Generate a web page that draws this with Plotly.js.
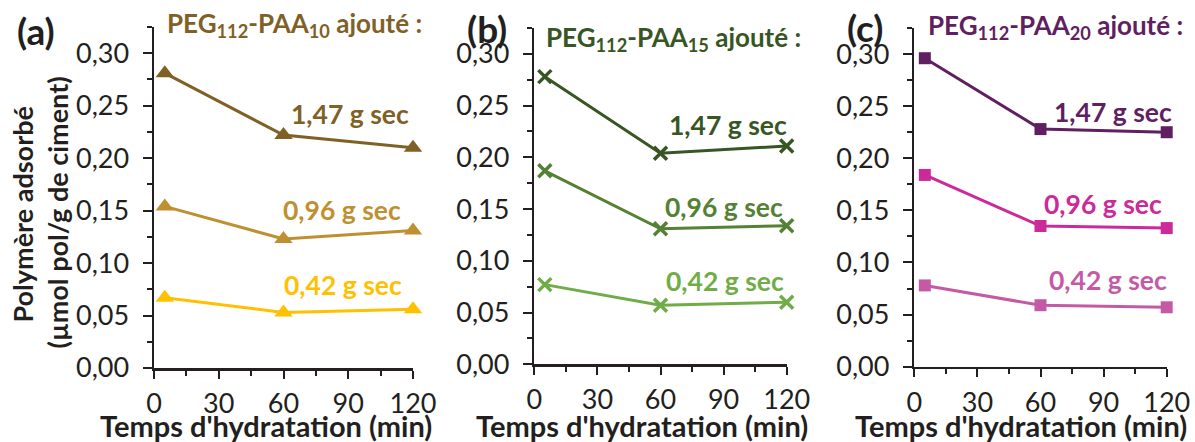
<!DOCTYPE html>
<html><head><meta charset="utf-8">
<script src="https://cdn.plot.ly/plotly-3.0.1.min.js"></script>
<style>html,body{margin:0;padding:0;background:#fff}#chart{width:1195px;height:442px}</style>
</head><body><div id="chart"></div>
<script>
// ---- data ----
const times = [5, 60, 120];
const doseLabels = ['1,47 g sec', '0,96 g sec', '0,42 g sec'];
const paa10_147 = [0.281, 0.222, 0.210];
const paa10_096 = [0.154, 0.123, 0.131];
const paa10_042 = [0.067, 0.053, 0.056];
const paa15_147 = [0.278, 0.204, 0.211];
const paa15_096 = [0.187, 0.131, 0.134];
const paa15_042 = [0.077, 0.057, 0.060];
const paa20_147 = [0.296, 0.228, 0.225];
const paa20_096 = [0.184, 0.135, 0.133];
const paa20_042 = [0.078, 0.059, 0.057];
const panelLetters = ['(a)', '(b)', '(c)'];
const panelTitles = ['PEG<sub>112</sub>-PAA<sub>10</sub> ajouté :',
                     'PEG<sub>112</sub>-PAA<sub>15</sub> ajouté :',
                     'PEG<sub>112</sub>-PAA<sub>20</sub> ajouté :'];
const xTitle = "Temps d'hydratation (min)";
const yTitle1 = 'Polymère adsorbé';
const yTitle2 = '(µmol pol/g de ciment)';

// ---- styles ----
const W = 1195, H = 442;
const FONT = 'Lato, "Open Sans", sans-serif';
const AX = '#231f20';
const panels = [
  {series: [paa10_147, paa10_096, paa10_042], colors: ['#7f6126', '#bf9030', '#ffc000'],
   symbol: 'triangle-up', msize: 16, mline: 0,
   xpx: [154, 413], ypx: [368, 27]},
  {series: [paa15_147, paa15_096, paa15_042], colors: ['#375623', '#548235', '#70ad47'],
   symbol: 'x-thin', msize: 13, mline: 3.5,
   xpx: [534.3, 786.7], ypx: [364.3, 28]},
  {series: [paa20_147, paa20_096, paa20_042], colors: ['#5f1f61', '#cc2a98', '#c45aa6'],
   symbol: 'square', msize: 12, mline: 0,
   xpx: [914.3, 1166.7], ypx: [366.7, 28]}
];
// label positions (px) : [panel][series] centre
const labelPx = [
  [[350, 114], [341.5, 209.5], [343, 285]],
  [[727.7, 125], [723.8, 207], [724.7, 281.3]],
  [[1112.5, 112.3], [1102.8, 204.3], [1108, 280]]
];
const titlePx = [[165, 24.2], [544, 38.7], [926, 26.3]];
const letterPx = [[35.5, 31], [487, 28.5], [865, 27.5]];
const xTitlePx = [[266, 425.5], [641.5, 425.5], [1021, 425.5]];

const px2x = p => p / W;
const py2y = p => 1 - p / H;

const traces = [];
const layout = {
  width: W, height: H,
  margin: {l: 0, r: 0, t: 0, b: 0, autoexpand: false},
  paper_bgcolor: '#fff', plot_bgcolor: 'rgba(0,0,0,0)',
  separators: ', ',
  showlegend: false,
  font: {family: FONT, color: AX, size: 24},
  annotations: []
};

panels.forEach((p, i) => {
  const sfx = i === 0 ? '' : String(i + 1);
  p.series.forEach((vals, j) => {
    traces.push({
      x: times, y: vals, xaxis: 'x' + sfx, yaxis: 'y' + sfx,
      type: 'scatter', mode: 'lines+markers', cliponaxis: false,
      line: {color: p.colors[j], width: 3},
      marker: {symbol: p.symbol, size: p.msize, color: p.colors[j],
               line: {color: p.colors[j], width: p.mline}},
      hoverinfo: 'skip'
    });
    layout.annotations.push({
      xref: 'paper', yref: 'paper', x: px2x(labelPx[i][j][0]), y: py2y(labelPx[i][j][1]),
      xanchor: 'center', yanchor: 'middle', showarrow: false,
      text: '<b>' + doseLabels[j] + '</b>',
      font: {family: FONT, size: 26.5, color: p.colors[j]}
    });
  });
  layout['xaxis' + sfx] = {
    domain: [px2x(p.xpx[0]), px2x(p.xpx[1])], anchor: 'y' + sfx,
    range: [0, 120], tickvals: [0, 30, 60, 90, 120], ticktext: ['0', '30', '60', '90', '120'],
    ticks: 'outside', ticklen: 8, tickwidth: 2, tickcolor: AX,
    minor: {tickvals: [15, 45, 75, 105], ticks: 'outside', ticklen: 5, tickwidth: 2, tickcolor: AX},
    showline: true, linewidth: 2.5, linecolor: AX, showgrid: false, zeroline: false,
    ticklabelstandoff: 2,
    tickfont: {family: FONT, size: 27, color: AX},
    fixedrange: true, automargin: false
  };
  layout['yaxis' + sfx] = {
    domain: [py2y(p.ypx[0]), py2y(p.ypx[1])], anchor: 'x' + sfx,
    range: [0, 0.325], tickvals: [0, 0.05, 0.10, 0.15, 0.20, 0.25, 0.30], tickformat: '.2f',
    ticks: 'outside', ticklen: 9, tickwidth: 2, tickcolor: AX,
    minor: {tickvals: [0.025, 0.075, 0.125, 0.175, 0.225, 0.275, 0.325], ticks: 'outside', ticklen: 5, tickwidth: 2, tickcolor: AX},
    showline: true, linewidth: 2.5, linecolor: AX, showgrid: false, zeroline: false,
    ticklabelstandoff: 8,
    tickfont: {family: FONT, size: 27, color: AX},
    fixedrange: true, automargin: false
  };
  layout.annotations.push({
    xref: 'paper', yref: 'paper', x: px2x(xTitlePx[i][0]), y: py2y(xTitlePx[i][1]),
    xanchor: 'center', yanchor: 'middle', showarrow: false,
    text: '<b>' + xTitle + '</b>',
    font: {family: FONT, size: 29, color: AX}
  });
  layout.annotations.push({
    xref: 'paper', yref: 'paper', x: px2x(titlePx[i][0]), y: py2y(titlePx[i][1]),
    xanchor: 'left', yanchor: 'middle', showarrow: false,
    text: '<b>' + panelTitles[i] + '</b>',
    font: {family: FONT, size: 26, color: p.colors[0]}
  });
  layout.annotations.push({
    xref: 'paper', yref: 'paper', x: px2x(letterPx[i][0]), y: py2y(letterPx[i][1]),
    xanchor: 'center', yanchor: 'middle', showarrow: false,
    text: '<b>' + panelLetters[i] + '</b>',
    font: {family: FONT, size: 37, color: AX}
  });
});
layout.annotations.push({
  xref: 'paper', yref: 'paper', x: px2x(21.5), y: py2y(215), xanchor: 'center', yanchor: 'middle',
  showarrow: false, textangle: -90, text: '<b>' + yTitle1 + '</b>',
  font: {family: FONT, size: 27, color: AX}
});
layout.annotations.push({
  xref: 'paper', yref: 'paper', x: px2x(56.5), y: py2y(213), xanchor: 'center', yanchor: 'middle',
  showarrow: false, textangle: -90, text: '<b>' + yTitle2 + '</b>',
  font: {family: FONT, size: 27, color: AX}
});

Plotly.newPlot('chart', traces, layout, {staticPlot: true, displayModeBar: false});
</script>
</body></html>
